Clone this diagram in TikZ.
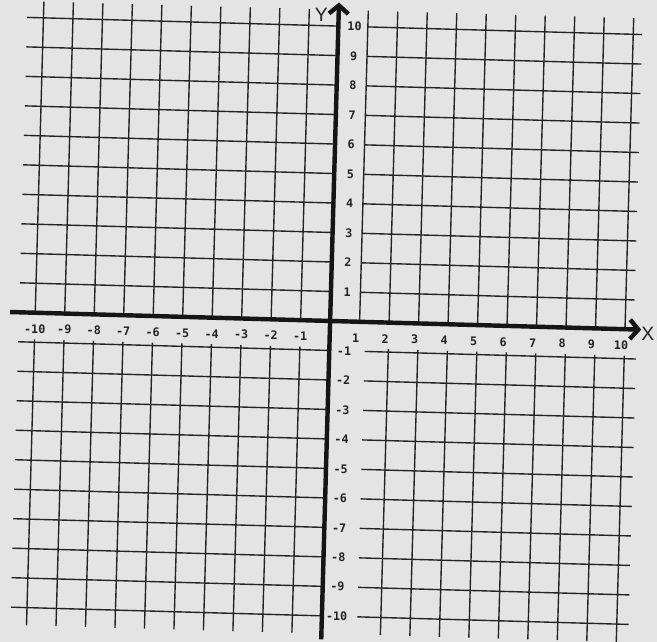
\documentclass[tikz,border=0pt]{standalone}
\usepackage{fontspec}
\setmainfont{Liberation Sans}
\setmonofont{DejaVu Sans Mono}
\usetikzlibrary{arrows.meta,positioning}
\definecolor{paper}{RGB}{228,228,228}
\definecolor{ink}{RGB}{35,35,35}
\begin{document}
\begin{tikzpicture}
         [x=0.75cm, y=0.75cm,
          grid line/.style={draw=ink, line width=1pt},
          axis line/.style={draw=ink!60!black, line width=3.2pt, -{Straight Barb[length=6pt,width=14pt]}},
          tick label/.style={font=\ttfamily\bfseries\fontsize{8.5}{8.5}\selectfont, text=ink, inner sep=0pt},
          axis name/.style={font=\fontsize{14}{14}\selectfont, text=ink, inner sep=0pt}]
         \fill[paper] (-11.19,-10.88) rectangle (11.08,10.88);
         \useasboundingbox (-11.19,-10.88) rectangle (11.08,10.88);
         \begin{scope}[rotate=-1.6]
         \foreach \i in {1,...,10} {
            \draw[grid line] (-\i,0) -- (-\i,10.55);
            \draw[grid line] (\i,0) -- (\i,10.55);
            \draw[grid line] (-\i,-0.9) -- (-\i,-10.6);
            \draw[grid line] (-10.55,\i) -- (0,\i);
            \draw[grid line] (1,\i) -- (10.3,\i);
            \draw[grid line] (-10.55,-\i) -- (0,-\i);
            \draw[grid line] (1.2,-\i) -- (10.4,-\i);
            \node[tick label] (xneg\i) at (-\i,-0.55) {-\i};
            \node[tick label] (xpos\i) at (\i-0.12,-0.55) {\i};
            \node[tick label] (ypos\i) at (0.55,\i) {\i};
            \node[tick label] (yneg\i) at (0.5,-\i) {-\i};
         }
         \foreach \i in {2,...,10}
            \draw[grid line] (\i,-0.9) -- (\i,-10.6);

         \coordinate (xstart) at (-10.85,0);
         \coordinate (xend) at (10.55,0);
         \coordinate (ystart) at (0,-10.8);
         \coordinate (yend) at (0,10.8);
         \draw[axis line] (xstart) -- (xend);
         \draw[axis line] (ystart) -- (yend);
         \node[axis name, right=0pt of xend, yshift=-3pt] (xname) {X};
         \node[axis name, below left=4pt and 8pt of yend] (yname) {Y};
         \end{scope}
      \end{tikzpicture}
\end{document}
